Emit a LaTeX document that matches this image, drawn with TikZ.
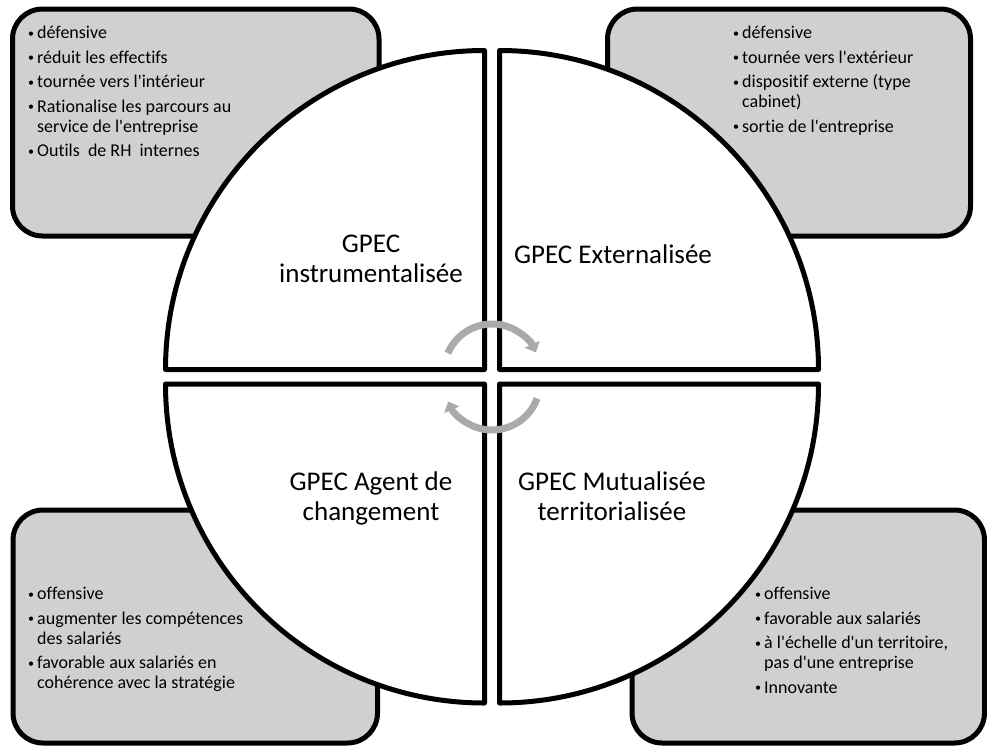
\documentclass[tikz,border=0pt]{standalone}
\usepackage{fontspec}
\setmainfont{Carlito}[Ligatures={TeXOff,NoCommon}]
\usetikzlibrary{arrows.meta}

\definecolor{boxgray}{RGB}{208,208,208}
\definecolor{arrowgray}{RGB}{170,170,170}

\newcommand{\itm}[1]{\makebox[10pt][l]{\hspace{1pt}\fontsize{12}{12}\selectfont\raisebox{1.5pt}{\textbullet}}#1}
\newcommand{\cont}[1]{\hspace*{10pt}#1}

\begin{document}
\begin{tikzpicture}[x=1pt,y=-1pt,
  box/.style={draw=black,line width=5pt,fill=boxgray,rounded corners=30pt},
  quad/.style={draw=black,line width=5pt,fill=white,line join=round},
  liste/.style={anchor=north west,inner sep=0pt,align=left,font=\fontsize{18}{20}\selectfont},
  titre/.style={anchor=base,inner sep=0pt,align=center,font=\fontsize{27}{29.5}\selectfont},
  cycle/.style={draw=arrowgray,line width=7pt,-{Triangle[length=9pt,width=16pt]}}]

\useasboundingbox (0,0) rectangle (987,747);

% grey boxes behind the circle
\draw[box] (12.5,9) rectangle (379,236);
\draw[box] (607.5,9) rectangle (970.5,236);
\draw[box] (13,510) rectangle (377.5,743);
\draw[box] (632,510) rectangle (984.5,743);

% the four quarters
\draw[quad] (484.5,369.5) -- (165.5,369.5) arc[start angle=180,end angle=270,radius=319] -- cycle;
\draw[quad] (499.5,369.5) -- (499.5,50.5) arc[start angle=270,end angle=360,radius=319] -- cycle;
\draw[quad] (499.5,384) -- (818.5,384) arc[start angle=0,end angle=90,radius=319] -- cycle;
\draw[quad] (484.5,384) -- (484.5,703) arc[start angle=90,end angle=180,radius=319] -- cycle;

% lists
\node[liste] (listeA) at (27,26) {\itm{défensive}\\[4.5pt]
  \itm{réduit les effectifs}\\[4.5pt]
  \itm{tournée vers l'intérieur}\\[4.5pt]
  \itm{Rationalise les parcours au}\\
  \cont{service de l'entreprise}\\[4.5pt]
  \itm{Outils~ de RH~ internes}};
\node[liste] (listeB) at (732,26) {\itm{défensive}\\[4.5pt]
  \itm{tournée vers l'extérieur}\\[4.5pt]
  \itm{dispositif externe (type}\\
  \cont{cabinet)}\\[4.5pt]
  \itm{sortie de l'entreprise}};
\node[liste] (listeC) at (27,587) {\itm{offensive}\\[4.5pt]
  \itm{augmenter les compétences}\\
  \cont{des salariés}\\[4.5pt]
  \itm{favorable aux salariés en}\\
  \cont{cohérence avec la stratégie}};
\node[liste] (listeD) at (754,587) {\itm{offensive}\\[4.5pt]
  \itm{favorable aux salariés}\\[4.5pt]
  \itm{à l'échelle d'un territoire,}\\
  \cont{pas d'une entreprise}\\[4.5pt]
  \itm{Innovante}};

% titles
\node[titre] (titreA) at (371,282) {GPEC\\instrumentalisée};
\node[titre] (titreB) at (613,263) {GPEC Externalisée};
\node[titre] (titreC) at (371,520) {GPEC Agent de\\changement};
\node[titre] (titreD) at (612,520) {GPEC Mutualisée\\territorialisée};

% cycle arrows
\draw[cycle] (492,372) ++(203:48) arc[start angle=203,end angle=336,radius=48];
\draw[cycle] (492,382) ++(20:48) arc[start angle=20,end angle=156,radius=48];
\end{tikzpicture}
\end{document}
